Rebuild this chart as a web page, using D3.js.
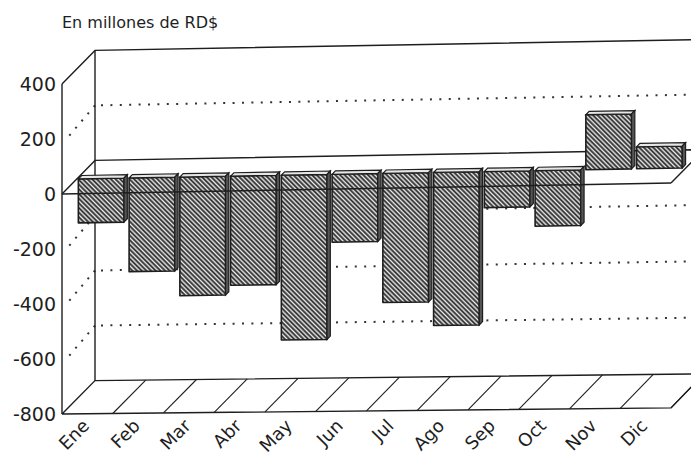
<!DOCTYPE html>
<html>
<head>
<meta charset="utf-8">
<script src="https://cdnjs.cloudflare.com/ajax/libs/d3/7.8.5/d3.min.js"></script>
<style>
body { margin: 0; background: #fff; }
svg text { font-family: "DejaVu Sans", sans-serif; fill: #1e1e1e; }
</style>
</head>
<body>
<div class="chart"></div>
<script>
let months = ["Ene", "Feb", "Mar", "Abr", "May", "Jun", "Jul", "Ago", "Sep", "Oct", "Nov", "Dic"];
let values = [-160, -340, -430, -395, -595, -245, -465, -550, -130, -200, 200, 80];
let yTicks = [400, 200, 0, -200, -400, -600, -800];
let gridValues = [200, -200, -400, -600];
let title = "En millones de RD$";

let width = 691, height = 465;
let depth = 33;            // offset of the back wall
let faceDepth = 0.45, backDepth = 0.55;   // bars sit half way in

let xScale = d3.scaleBand().domain(months).range([62, 671]);
let yScale = d3.scaleLinear().domain([-800, 400]).range([414, 84]);
let x0 = xScale.range()[0], x1 = xScale.range()[1];
let zeroY = yScale(0);

// 3d offset, plus the slight tilt of the scanned page
function proj(x, v, d)
{
    let px = x + d * depth;
    let py = yScale(v) - d * depth;
    let s = py <= zeroY ? 0.018 : 0.018 - 0.008 * (py - zeroY) / 220;
    return [px, py - s * (px - x0)];
}

let line = d3.line();

let svg = d3.select(".chart")
            .append("svg")
            .attr("width", width)
            .attr("height", height);

let pat = svg.append("defs")
             .append("pattern")
             .attr("id", "hatch")
             .attr("patternUnits", "userSpaceOnUse")
             .attr("width", 3.3)
             .attr("height", 3.3)
             .attr("patternTransform", "rotate(-45)");
pat.append("rect").attr("width", 3.3).attr("height", 3.3).attr("fill", "#eeeeee");
pat.append("line")
   .attr("x1", 1.2).attr("x2", 1.2)
   .attr("y1", 0).attr("y2", 3.3)
   .attr("stroke", "#262626")
   .attr("stroke-width", 1.8);

function solid(pts, w)
{
    svg.append("path")
       .attr("d", line(pts))
       .attr("fill", "none")
       .attr("stroke", "#1e1e1e")
       .attr("stroke-width", w || 1.4);
}

function dotted(pts)
{
    svg.append("path")
       .attr("d", line(pts))
       .attr("fill", "none")
       .attr("stroke", "#333")
       .attr("stroke-width", 2)
       .attr("stroke-dasharray", "2 7.4");
}

// grid on the back wall and the left side
gridValues.forEach(function(v) {
    dotted([proj(x0 + 6, v, 1), proj(x1, v, 1)]);
    dotted([proj(x0 + 4, v, 0.1), proj(x0, v, 1)]);
});

// box frame
solid([proj(x0, 400, 1), proj(x0, -800, 1)]);
solid([proj(x0, 400, 0), proj(x0, 400, 1), proj(x1, 400, 1)]);
solid([proj(x0, 400, 0), proj(x0, -800, 0)]);

// floor with one cell per month
solid([proj(x0, -800, 0), proj(x1, -800, 0), proj(x1, -800, 1), proj(x0, -800, 1), proj(x0, -800, 0)]);
months.forEach(function(m) {
    let b = xScale(m) + xScale.step();
    solid([proj(b, -800, 0), proj(b, -800, 1)], 1.1);
});

// zero plane, behind the bars
solid([proj(x0, 0, 0), proj(x0, 0, 1), proj(x1, 0, 1), proj(x1, 0, 0)]);

// bars
let bw = xScale.bandwidth() * 0.9;
let bars = svg.selectAll(".bar")
              .data(months.map((m, i) => ({month: m, value: values[i]})))
              .enter()
              .append("g")
              .attr("class", "bar");

bars.append("path")
    .attr("d", function(d) {
        let xl = xScale(d.month) + 1.5, xr = xl + bw;
        return line([proj(xl, 0, faceDepth), proj(xr, 0, faceDepth),
                     proj(xr, d.value, faceDepth), proj(xl, d.value, faceDepth)]) + "Z";
    })
    .attr("fill", "url(#hatch)")
    .attr("stroke", "#1e1e1e")
    .attr("stroke-width", 1.6)
    .attr("stroke-linejoin", "round");

bars.append("path")
    .attr("d", function(d) {
        let xl = xScale(d.month) + 1.5, xr = xl + bw;
        let top = Math.max(d.value, 0);
        return line([proj(xl, top, faceDepth), proj(xr, top, faceDepth),
                     proj(xr, top, backDepth), proj(xl, top, backDepth)]) + "Z";
    })
    .attr("fill", "#e6e6e6")
    .attr("stroke", "#1e1e1e")
    .attr("stroke-width", 1.2);

bars.append("path")
    .attr("d", function(d) {
        let xr = xScale(d.month) + 1.5 + bw;
        let top = Math.max(d.value, 0), bot = Math.min(d.value, 0);
        return line([proj(xr, top, faceDepth), proj(xr, top, backDepth),
                     proj(xr, bot, backDepth), proj(xr, bot, faceDepth)]) + "Z";
    })
    .attr("fill", "#555")
    .attr("stroke", "#1e1e1e")
    .attr("stroke-width", 1.2);

// front edge of the zero plane runs over the bars
solid([proj(x0, 0, 0), proj(x1, 0, 0)]);

// value labels
svg.selectAll(".ytick")
   .data(yTicks)
   .enter()
   .append("text")
   .attr("x", 56)
   .attr("y", d => yScale(d))
   .attr("dy", "0.36em")
   .style("text-anchor", "end")
   .style("font-size", "19px")
   .text(d => d);

// month labels
svg.selectAll(".xtick")
   .data(months)
   .enter()
   .append("text")
   .attr("transform", function(d) {
       let cx = xScale(d) + xScale.step() / 2 + 3;
       return "translate(" + cx + ",427) rotate(-45)";
   })
   .style("text-anchor", "end")
   .style("font-size", "18px")
   .text(d => d);

svg.append("text")
   .attr("x", 62)
   .attr("y", 28)
   .style("font-size", "16px")
   .text(title);
</script>
</body>
</html>
